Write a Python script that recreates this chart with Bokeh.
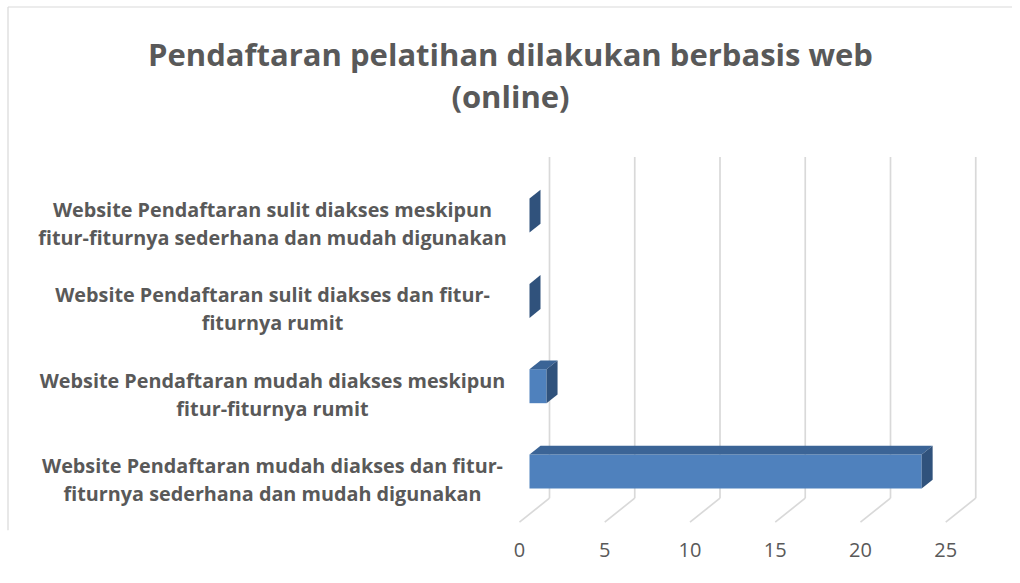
from bokeh.plotting import figure
from bokeh.models import ColumnDataSource, Range1d, LinearAxis, FixedTicker
from bokeh.core.properties import value
from bokeh.embed import file_html
from bokeh.resources import INLINE

# ---------------- data ----------------
title_text = "Pendaftaran pelatihan dilakukan berbasis web\n(online)"
categories = [
    "Website Pendaftaran mudah diakses dan fitur-\nfiturnya sederhana dan mudah digunakan",
    "Website Pendaftaran mudah diakses meskipun\nfitur-fiturnya rumit",
    "Website Pendaftaran sulit diakses dan fitur-\nfiturnya rumit",
    "Website Pendaftaran sulit diakses meskipun\nfitur-fiturnya sederhana dan mudah digunakan",
]
values = [23, 1, 0, 0]
x_ticks = [0, 5, 10, 15, 20, 25]

# ---------------- style / geometry ----------------
TXT = "#595959"
FRONT = "#4F81BD"
TOP = "#3B6496"
SIDE = "#30527C"
GRID = "#D9D9D9"
FONT = "Open Sans"

W, H = 1012, 575
FRAME_H = 530
PXX = 17.05   # pixels per value unit
PXY = 85.3    # pixels per category step
x0 = -529 / PXX
x1 = x0 + W / PXX
y1 = 471 / PXY
y0 = y1 - FRAME_H / PXY

def sx(px):  # screen x -> data x
    return x0 + px / PXX

def sy(py):  # screen y -> data y
    return y1 - py / PXY

def dx(d):  # depth offset in x data units
    return d / PXX

def dy(d):  # depth offset in y data units (receding goes up)
    return 0.8 * d / PXY

BAR_H = 34 / PXY
BAR_D = 11
WALL_D = 20
FLOOR_D = -10

p = figure(width=W, height=H, output_backend="svg", toolbar_location=None,
           x_range=Range1d(x0, x1), y_range=Range1d(y0, y1),
           x_axis_location=None, y_axis_location=None,
           min_border_left=0, min_border_right=0, min_border_top=0,
           min_border_bottom=H - FRAME_H)
p.outline_line_color = None
p.xgrid.visible = False
p.ygrid.visible = False
p.background_fill_color = "white"
p.border_fill_color = "white"

# chart-area border (left and top edges)
p.segment(x0=[sx(7.5), sx(7.5)], y0=[y0, sy(6.5)], x1=[sx(7.5), x1],
          y1=[sy(6.5), sy(6.5)], line_color=GRID, line_width=1.2)

n = len(categories)
idx = list(range(n))

# back wall gridlines
wall_bot = -0.5 + dy(WALL_D)
wall_top = n - 0.5 + dy(WALL_D)
p.segment(x0=[t + dx(WALL_D) for t in x_ticks], y0=[wall_bot] * len(x_ticks),
          x1=[t + dx(WALL_D) for t in x_ticks], y1=[wall_top] * len(x_ticks),
          line_color=GRID, line_width=1.7)
# floor lines
p.segment(x0=[t + dx(WALL_D) for t in x_ticks], y0=[wall_bot] * len(x_ticks),
          x1=[t + dx(FLOOR_D) for t in x_ticks], y1=[-0.5 + dy(FLOOR_D)] * len(x_ticks),
          line_color=GRID, line_width=1.7)

# bars: front faces
p.quad(left=[0] * n, right=values, bottom=[k - BAR_H / 2 for k in idx],
       top=[k + BAR_H / 2 for k in idx], fill_color=FRONT, line_color=None)
# top faces
bx, by = dx(BAR_D), dy(BAR_D)
top_xs = [[0, v, v + bx, bx] for v in values]
top_ys = [[k + BAR_H / 2, k + BAR_H / 2, k + BAR_H / 2 + by, k + BAR_H / 2 + by] for k in idx]
p.patches(xs=top_xs, ys=top_ys, fill_color=TOP, line_color=None)
# side faces
side_xs = [[v, v, v + bx, v + bx] for v in values]
side_ys = [[k - BAR_H / 2, k + BAR_H / 2, k + BAR_H / 2 + by, k - BAR_H / 2 + by] for k in idx]
p.patches(xs=side_xs, ys=side_ys, fill_color=SIDE, line_color=None)

# category labels
lab_src = ColumnDataSource(dict(x=[sx(272)] * n, y=[k + dy(FLOOR_D) for k in idx],
                                text=categories))
p.text(x="x", y="y", text="text", source=lab_src, text_align="center",
       text_baseline="middle", text_font=value(FONT), text_font_style="bold",
       text_font_size="19.8px", text_color=TXT, text_line_height=1.04)

# title
p.text(x=[sx(510)], y=[sy(74)], text=[title_text], text_align="center",
       text_baseline="middle", text_font=value(FONT), text_font_style="bold",
       text_font_size="31px", text_color=TXT, text_line_height=1.0)

# value axis on the front floor edge
p.extra_x_ranges = {"floor": Range1d(x0 - dx(FLOOR_D), x1 - dx(FLOOR_D))}
ax = LinearAxis(x_range_name="floor", ticker=FixedTicker(ticks=x_ticks))
ax.axis_line_color = None
ax.major_tick_line_color = None
ax.minor_tick_line_color = None
ax.major_tick_out = 0
ax.major_tick_in = 0
ax.major_label_standoff = 12
ax.major_label_text_font = FONT
ax.major_label_text_font_size = "20px"
ax.major_label_text_color = TXT
p.add_layout(ax, "below")

open("out.html", "w").write(file_html(p, INLINE))
